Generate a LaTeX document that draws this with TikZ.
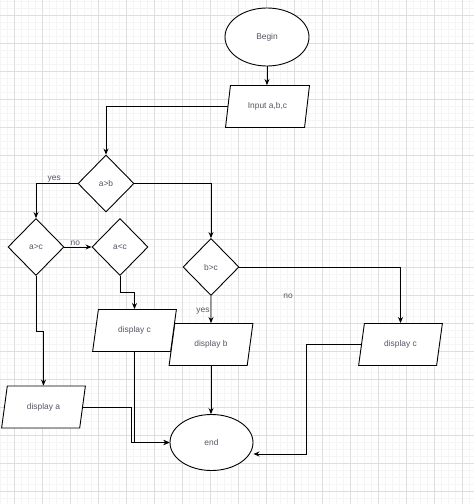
\documentclass[tikz,border=0pt]{standalone}
\usepackage{fontspec}
\setmainfont{Liberation Sans}
\usetikzlibrary{shapes.geometric,arrows.meta}
\definecolor{gridminor}{RGB}{245,245,245}
\definecolor{gridmajor}{RGB}{222,222,222}
\definecolor{labeltext}{RGB}{85,85,100}

\begin{document}
\begin{tikzpicture}[x=1pt,y=-1pt,line width=0.9pt,
  every node/.style={font=\fontsize{8.4}{10}\selectfont,text=labeltext},
  terminal/.style={draw,ellipse,fill=white,minimum width=84pt,minimum height=58pt,inner sep=0pt},
  decision/.style={draw,diamond,fill=white,minimum width=56pt,minimum height=57pt,inner sep=0pt},
  io/.style={draw,trapezium,trapezium left angle=71.6,trapezium right angle=108.4,
    trapezium stretches=true,fill=white,minimum width=84pt,minimum height=42pt,inner sep=0pt},
  flow/.style={-{Stealth[length=6pt,width=5pt]}}]
  \useasboundingbox (0,0) rectangle (474,504);
  % grid
  \foreach \k in {0,...,67}
    \draw[gridminor,line width=0.5pt] (7*\k,0) -- (7*\k,504);
  \foreach \k in {0,...,71}
    \draw[gridminor,line width=0.5pt] (0,1+7*\k) -- (474,1+7*\k);
  \foreach \k in {0,...,16}
    \draw[gridmajor,line width=0.6pt] (14+28*\k,0) -- (14+28*\k,504);
  \foreach \k in {0,...,17}
    \draw[gridmajor,line width=0.6pt] (0,15+28*\k) -- (474,15+28*\k);

  \node[terminal] (begin) at (267,37) {Begin};
  \node[io] (input) at (267.5,106.5) {Input a,b,c};
  \node[decision] (ab) at (106,183.5) {a>b};
  \node[decision] (ac) at (36,247) {a>c};
  \node[decision] (altc) at (120,247) {a<c};
  \node[decision] (bc) at (211,267) {b>c};
  \node[io] (dispb) at (211,344.5) {display b};
  \node[io] (dispcr) at (400.5,344.5) {display c};
  \node[io] (dispcm) at (134.5,330.5) {display c};
  \node[io] (dispa) at (43.5,407) {display a};
  \node[terminal,minimum width=83pt,minimum height=56pt] (end) at (211.5,442.5) {end};
  \node (nob) at (288,296) {no};
  \coordinate (backr) at (306,454);

  \draw[flow] (begin.south) -- (begin.south |- input.north);
  \draw[flow] (input.left side) -| (ab.north);
  \draw[flow] (ab.west) -| (ac.north) node[pos=.28,above,inner sep=1pt] {yes};
  \draw[flow] (ac.east) -- (altc.west) node[pos=.4,above,inner sep=1pt] {no};
  \draw[flow] (ab.east) -| (bc.north);
  \draw[flow] (bc.east) -| (dispcr.north);
  \draw[flow] (bc.south) -- (dispb.north) node[pos=.56,left,inner sep=1pt] {yes};
  \draw[flow] (altc.south) -- ++(0,16.5) -| (dispcm.north);
  \draw[flow] (ac.south) -- ++(0,55) -| (dispa.north);
  \draw[flow] (dispb.south) -- (dispb.south |- end.north);
  \draw[flow] (dispcr.left side) -| (backr) -- (backr -| end.east);
  \draw[flow] (dispcm.south) |- (end.west);
  \draw[flow] (dispa.right side) -- ++(48,0) |- (end.west);
\end{tikzpicture}
\end{document}
